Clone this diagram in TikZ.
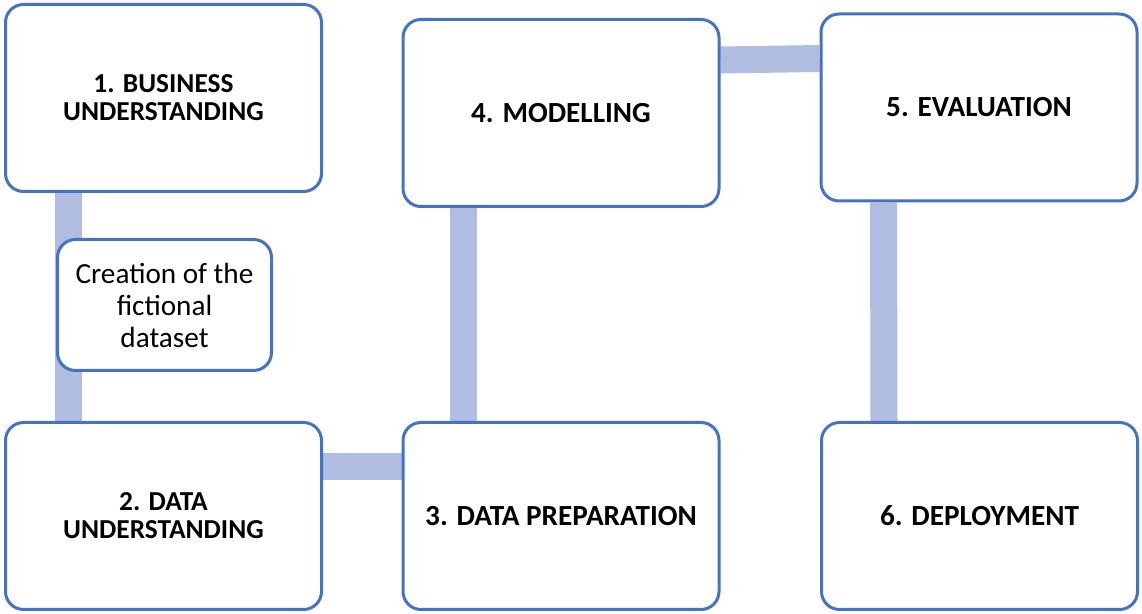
\documentclass[tikz,border=0pt]{standalone}
\usepackage{fontspec}
\setmainfont{Carlito}
\usepackage{tikz}
\usetikzlibrary{backgrounds}
\definecolor{boxblue}{RGB}{68,114,196}
\definecolor{linkblue}{RGB}{176,189,224}
\tikzstyle{phase}=[draw=boxblue, line width=1.5pt, rounded corners=9pt, fill=white,
  minimum width=158pt, minimum height=93.5pt, align=center,
  font=\fontsize{13.7}{14}\selectfont\bfseries, inner sep=0pt]
\tikzstyle{phase1}=[phase, font=\fontsize{14.6}{15}\selectfont\bfseries]
\tikzstyle{note}=[phase, minimum width=107pt, minimum height=65.5pt,
  font=\fontsize{14.6}{16}\selectfont\mdseries]
\tikzstyle{link}=[line width=13.5pt, color=linkblue]

\begin{document}
\begin{tikzpicture}[x=0.5pt,y=-0.5pt]
    \useasboundingbox (0,0) rectangle (1142,614);

    % the six phases
    \node[phase] (bu) at (163.5,98) {1. BUSINESS\\UNDERSTANDING};
    \node[phase] (du) at (163.5,516) {2. DATA\\UNDERSTANDING};
    \node[phase1] (dp) at (561,516) {3. DATA PREPARATION};
    \node[phase1] (mo) at (561,113) {4. MODELLING};
    \node[phase1] (ev) at (979,107.5) {5. EVALUATION};
    \node[phase1] (de) at (979.5,516) {6. DEPLOYMENT};

    % links behind the boxes
    \begin{scope}[on background layer]
    \draw[link] ([xshift=32pt]bu.south west) -- ([xshift=32pt]du.north west);
    \draw[link] ([yshift=-23pt]du.north east) -- ([yshift=-23pt]dp.north west);
    \draw[link] ([xshift=31pt]dp.north west) -- ([xshift=31pt]mo.south west);
    \draw[link] ([yshift=-21pt]mo.north east) -- ([yshift=-23pt]ev.north west);
    \draw[link] ([xshift=32pt]ev.south west) -- ([xshift=32pt]de.north west);
    \end{scope}

    % side note on the first link
    \node[note] (cd) at (164.5,305) {Creation of the\\fictional\\dataset};
\end{tikzpicture}
\end{document}
